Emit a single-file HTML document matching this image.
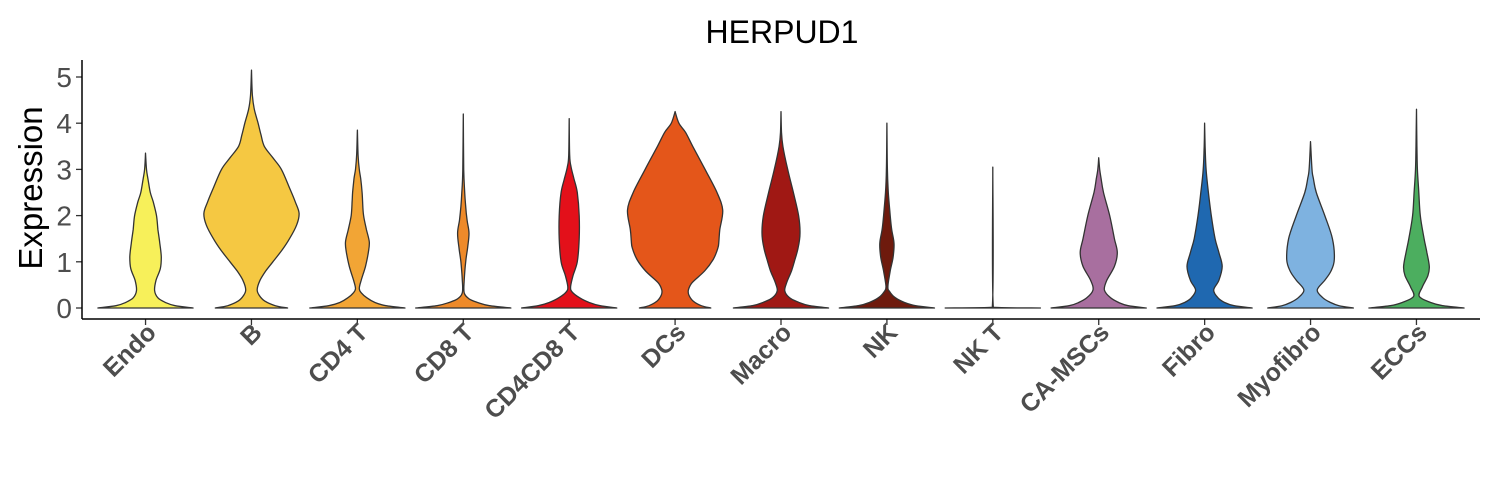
<!DOCTYPE html>
<html><head><meta charset="utf-8"><style>
body{margin:0;background:#fff}
svg{display:block;font-family:"Liberation Sans",sans-serif}
</style></head><body>
<svg id="chart" width="1500" height="500">
<text x="782" y="43" text-anchor="middle" font-size="32" fill="#000">HERPUD1</text>
<text transform="translate(42,188) rotate(-90)" text-anchor="middle" font-size="33" fill="#000">Expression</text>
<g id="plot"></g>
</svg>
<script>
const categories=["Endo","B","CD4 T","CD8 T","CD4CD8 T","DCs","Macro","NK","NK T","CA-MSCs","Fibro","Myofibro","ECCs"];
const colors=["#f7f05a","#f5c842","#f2a535","#ee8a2a","#e3101a","#e4561a","#a01814","#6e1a0d","#3d1a0b","#a86f9f","#1f68b0","#7eb2e0","#4cae5f"];
const yTicks=[0,1,2,3,4,5];
const profEndo=[[0,1],[0.05,0.62],[0.12,0.42],[0.22,0.26],[0.38,0.19],[0.6,0.22],[0.85,0.31],[1.1,0.33],[1.4,0.3],[1.7,0.26],[2,0.23],[2.3,0.16],[2.5,0.1],[2.8,0.05],[3,0.02],[3.35,0]];
const profB=[[0,0.76],[0.05,0.5],[0.15,0.28],[0.28,0.16],[0.4,0.12],[0.6,0.18],[0.8,0.3],[1,0.45],[1.25,0.64],[1.5,0.8],[1.8,0.95],[2.05,1.0],[2.3,0.92],[2.6,0.8],[3,0.63],[3.25,0.45],[3.5,0.27],[3.75,0.2],[4,0.14],[4.3,0.06],[4.6,0.02],[5.15,0]];
const profCD4T=[[0,1],[0.05,0.6],[0.12,0.37],[0.22,0.2],[0.32,0.09],[0.42,0.04],[0.6,0.08],[0.9,0.17],[1.2,0.23],[1.43,0.25],[1.7,0.19],[2,0.13],[2.3,0.11],[2.5,0.1],[2.8,0.07],[3,0.04],[3.3,0.015],[3.85,0]];
const profCD8T=[[0,1],[0.05,0.55],[0.12,0.3],[0.2,0.12],[0.33,0.02],[0.6,0.02],[1,0.05],[1.3,0.09],[1.62,0.12],[1.9,0.08],[2.2,0.05],[2.5,0.03],[3,0.01],[4.2,0]];
const profCD4CD8T=[[0,1],[0.05,0.65],[0.12,0.42],[0.22,0.22],[0.35,0.06],[0.46,0.03],[0.7,0.08],[1,0.17],[1.5,0.21],[2,0.21],[2.5,0.17],[2.8,0.1],[3.05,0.04],[3.3,0.01],[4.1,0]];
const profDCs=[[0,0.75],[0.05,0.55],[0.15,0.38],[0.28,0.29],[0.39,0.28],[0.55,0.36],[0.8,0.62],[1.05,0.8],[1.3,0.9],[1.45,0.92],[1.7,0.94],[2.12,1.0],[2.5,0.88],[3,0.63],[3.5,0.37],[3.8,0.22],[4,0.08],[4.25,0]];
const profMacro=[[0,1],[0.05,0.6],[0.12,0.38],[0.22,0.18],[0.37,0.08],[0.55,0.12],[0.8,0.22],[1,0.28],[1.3,0.36],[1.62,0.4],[2,0.37],[2.5,0.26],[3,0.14],[3.5,0.04],[3.8,0.01],[4.25,0]];
const profNK=[[0,1],[0.05,0.6],[0.12,0.37],[0.22,0.18],[0.35,0.06],[0.46,0.02],[0.8,0.07],[1.1,0.13],[1.4,0.15],[1.7,0.1],[2,0.07],[2.5,0.03],[3,0.01],[4,0]];
const profNKT=[[0,1],[0.015,0.01],[3.05,0]];
const profCAMSCs=[[0,1],[0.05,0.62],[0.12,0.42],[0.22,0.25],[0.39,0.12],[0.6,0.17],[0.9,0.33],[1.2,0.39],[1.5,0.33],[2,0.23],[2.5,0.1],[2.8,0.05],[3,0.02],[3.25,0]];
const profFibro=[[0,1],[0.05,0.62],[0.12,0.42],[0.22,0.28],[0.39,0.19],[0.6,0.3],[0.9,0.37],[1.2,0.3],[1.5,0.22],[2,0.14],[2.5,0.08],[3,0.03],[3.5,0.01],[4,0]];
const profMyofibro=[[0,0.9],[0.05,0.6],[0.12,0.42],[0.22,0.26],[0.39,0.14],[0.6,0.3],[0.8,0.43],[1.05,0.5],[1.5,0.46],[2,0.3],[2.5,0.12],[2.8,0.06],[3,0.03],[3.6,0]];
const profECCs=[[0,1],[0.05,0.55],[0.12,0.3],[0.25,0.06],[0.45,0.12],[0.7,0.24],[0.9,0.27],[1.2,0.22],[1.5,0.16],[2,0.08],[2.5,0.05],[3,0.02],[3.5,0.01],[4.3,0]];
const profiles=[profEndo,profB,profCD4T,profCD8T,profCD4CD8T,profDCs,profMacro,profNK,profNKT,profCAMSCs,profFibro,profMyofibro,profECCs];

const NS="http://www.w3.org/2000/svg";
const L=82,R=1480,B=319;
const xs=i=>L+(i+1-0.4)*(R-L)/(categories.length+0.2);
const ys=v=>308-v*46.2;
const HW=47.6;
const g=document.getElementById('plot');
function mk(t,a){const e=document.createElementNS(NS,t);for(const k in a)e.setAttribute(k,a[k]);g.appendChild(e);return e;}
const clamp=(v,a,b)=>Math.max(Math.min(a,b),Math.min(Math.max(a,b),v));
function smooth(pts){let d="M"+pts[0][0].toFixed(1)+","+pts[0][1].toFixed(1);
 for(let i=0;i<pts.length-1;i++){const p0=pts[Math.max(0,i-1)],p1=pts[i],p2=pts[i+1],p3=pts[Math.min(pts.length-1,i+2)];
  const xl=Math.min(p1[0],p2[0])-Math.abs(p2[0]-p1[0])*0.5-1, xh=Math.max(p1[0],p2[0])+Math.abs(p2[0]-p1[0])*0.5+1;
  const c1=[clamp(p1[0]+(p2[0]-p0[0])/6,xl,xh),clamp(p1[1]+(p2[1]-p0[1])/6,p1[1],p2[1])],c2=[clamp(p2[0]-(p3[0]-p1[0])/6,xl,xh),clamp(p2[1]-(p3[1]-p1[1])/6,p1[1],p2[1])];
  d+=`C${c1[0].toFixed(1)},${c1[1].toFixed(1)} ${c2[0].toFixed(1)},${c2[1].toFixed(1)} ${p2[0].toFixed(1)},${p2[1].toFixed(1)}`;}
 return d;}
profiles.forEach((p,i)=>{
 const cx=xs(i);
 const right=p.map(q=>[cx+q[1]*HW,ys(q[0])]);
 const left=p.slice().reverse().map(q=>[cx-q[1]*HW,ys(q[0])]);
 const d=smooth(right)+smooth(left).replace(/^M/,"L")+"Z";
 const e=mk('path',{d:d,fill:colors[i],stroke:"#333",'stroke-width':1.3,'stroke-linejoin':'round'});
 
 
 const t=mk('line',{x1:cx,x2:cx,y1:B,y2:B+6,stroke:"#333",'stroke-width':1.3});
 
 
 const lb=mk('text',{transform:`translate(${cx+12},${B+15}) rotate(-45)`,'text-anchor':'end','font-size':25,'font-weight':'bold',fill:'#4d4d4d'});
 lb.textContent=categories[i];
 
 
});
yTicks.forEach(v=>{
 const t=mk('line',{x1:L-6,x2:L,y1:ys(v),y2:ys(v),stroke:"#333",'stroke-width':1.3});
 
 
 const lb=mk('text',{x:L-10,y:ys(v)+10,'text-anchor':'end','font-size':28,fill:'#4d4d4d'});
 lb.textContent=v;
 
 
});
const ya=mk('line',{x1:L,x2:L,y1:60,y2:B,stroke:"#000",'stroke-width':1.5});


const xa=mk('line',{x1:L,x2:R,y1:B,y2:B,stroke:"#000",'stroke-width':1.5});


</script>
</body></html>
